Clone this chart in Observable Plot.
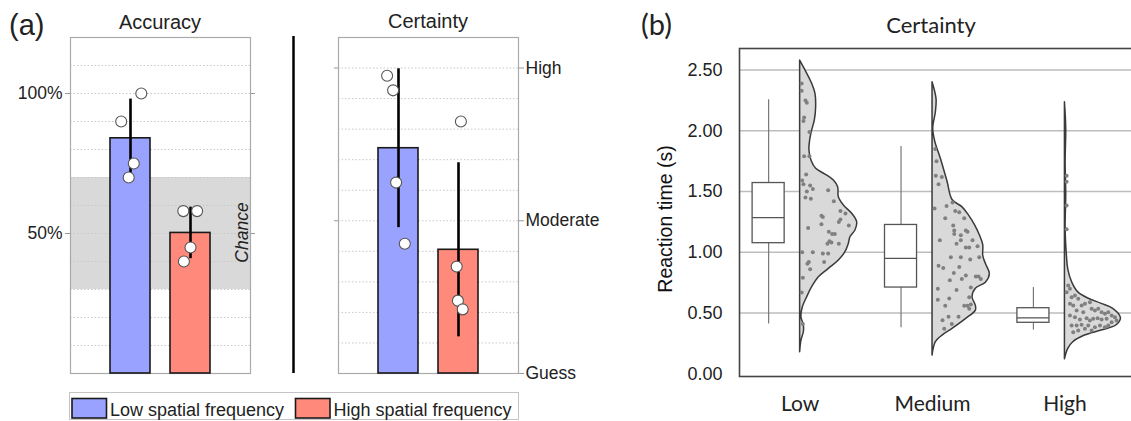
<!DOCTYPE html>
<html><head><meta charset="utf-8">
<script src="https://cdn.jsdelivr.net/npm/d3@7"></script>
<script src="https://cdn.jsdelivr.net/npm/@observablehq/plot@0.6"></script>
<style>
html,body{margin:0;padding:0;background:#fff;}
#chart{position:relative;width:1131px;height:421px;overflow:hidden;background:#fff;}
#chart svg{position:absolute;}
</style></head><body><div id="chart"></div>
<script>
// ---------- Panel (a) data ----------
const groups = ["Low spatial frequency", "High spatial frequency"];
const groupColors = ["#99a3ff", "#ff8a7c"];
const chanceRange = [0.3, 0.7];
const accuracyMean = [0.84, 0.502];
const accuracyErr = [0.14, 0.092];
const accuracyLow = [1.00, 0.90, 0.75, 0.70];
const accuracyLowJitter = [0.18, -0.155, 0.055, -0.03];
const accuracyHigh = [0.58, 0.58, 0.45, 0.40];
const accuracyHighJitter = [-0.12, 0.11, 0.0, -0.11];
const accuracyTicks = [0.5, 1.0];
const accuracyGrid = [0.1, 0.2, 0.3, 0.4, 0.5, 0.6, 0.7, 0.8, 0.9, 1.0, 1.1];

const certaintyLabels = ["Guess", "Moderate", "High"];
const certaintyLevels = [1, 2, 3];
const certaintyMean = [2.475, 1.81];
const certaintyErr = [0.52, 0.57];
const certaintyLow = [2.95, 2.854, 2.25, 1.85];
const certaintyLowJitter = [-0.19, -0.09, -0.04, 0.105];
const certaintyHigh = [2.65, 1.70, 1.477, 1.42];
const certaintyHighJitter = [0.04, -0.03, -0.01, 0.07];
const certaintyGrid = [1.2, 1.4, 1.6, 1.8, 2.0, 2.2, 2.4, 2.6, 2.8, 3.0];

// ---------- Panel (b) data ----------
const rtCategories = ["Low", "Medium", "High"];
const rtMin = [0.41, 0.38, 0.36];
const rtQ1 = [1.075, 0.71, 0.42];
const rtMedian = [1.285, 0.95, 0.46];
const rtQ3 = [1.57, 1.225, 0.54];
const rtMax = [2.255, 1.87, 0.71];
const rtTicks = [0, 0.5, 1.0, 1.5, 2.0, 2.5];

const lowViolinRT = [2.578, 2.387, 2.305, 2.194, 2.085, 2.002, 1.92, 1.838, 1.756, 1.687, 1.64, 1.591, 1.536, 1.453, 1.385, 1.317, 1.248, 1.179, 1.124, 1.07, 1.001, 0.933, 0.864, 0.795, 0.713, 0.63, 0.548, 0.466, 0.398, 0.342, 0.274, 0.178];
const lowViolinW = [0, 12, 15.3, 16, 14.7, 12, 10, 9.3, 11.3, 16, 25.3, 33.7, 38, 38.7, 43.7, 52, 57, 55.3, 50.3, 48.7, 45.3, 38.7, 28.7, 18.7, 12, 7, 2.7, 1.3, 3.7, 3.7, 1.3, 0];
const mediumViolinRT = [2.40, 2.26, 2.15, 2.02, 1.91, 1.77, 1.58, 1.43, 1.37, 1.30, 1.22, 1.14, 1.06, 0.97, 0.905, 0.82, 0.75, 0.70, 0.63, 0.56, 0.52, 0.45, 0.37, 0.315, 0.26, 0.15];
const mediumViolinW = [0, 4, 3.3, 0.7, 2.7, 8.3, 15, 20, 30, 36.7, 42.7, 47.3, 50.7, 50.7, 53.3, 57.3, 53.3, 43.3, 40, 43.3, 43.3, 33.3, 20, 10, 3.3, 0];
const highViolinRT = [2.235, 2.02, 1.74, 1.47, 1.19, 0.97, 0.86, 0.75, 0.67, 0.62, 0.576, 0.535, 0.458, 0.40, 0.356, 0.315, 0.26, 0.206, 0.12];
const highViolinW = [0, 1.3, 0.7, 1.3, 0.7, 2, 3.3, 7.3, 13.3, 23.3, 36.7, 48.3, 56, 51.7, 36.7, 20, 8.3, 3.3, 0];

const lowDotRT = [2.39, 2.33, 2.25, 2.23, 2.11, 2.08, 1.99, 1.79, 1.79, 1.64, 1.59, 1.56, 1.55, 1.52, 1.50, 1.51, 1.45, 1.44, 1.42, 1.34, 1.32, 1.30, 1.29, 1.27, 1.25, 1.22, 1.20, 1.23, 1.17, 1.15, 1.15, 1.09, 1.07, 1.08, 1.07, 1.00, 1.00, 0.99, 0.99, 0.92, 0.905, 0.92, 0.86, 0.79, 0.67, 0.41];
const lowDotW = [1.5, 1.5, 5.3, 6.7, 4, 3.3, 9.3, 4, 9.3, 6, 2, 3.3, 10, 12.7, 6.7, 28, 5.3, 10.7, 33.7, 40.3, 45.3, 21.3, 22.7, 40.3, 38.7, 48.7, 8, 21.3, 28.7, 32, 34.7, 29.3, 27.3, 31.3, 38.7, 2, 12.7, 22.7, 28, 8.7, 7.3, 24, 10, 2.7, 1.5, 2.7];
const mediumDotRT = [1.85, 1.75, 1.63, 1.62, 1.56, 1.36, 1.38, 1.41, 1.34, 1.33, 1.28, 1.28, 1.22, 1.18, 1.15, 1.18, 1.14, 1.17, 1.10, 1.10, 1.10, 1.07, 1.04, 1.04, 1.05, 0.96, 0.96, 0.94, 0.96, 0.89, 0.87, 0.88, 0.83, 0.81, 0.80, 0.80, 0.78, 0.77, 0.78, 0.71, 0.70, 0.69, 0.62, 0.63, 0.61, 0.56, 0.56, 0.56, 0.535, 0.57, 0.47, 0.47, 0.44, 0.41, 0.37];
const mediumDotW = [2.7, 4, 3.3, 9.3, 6, 2, 14, 20, 22.7, 26.7, 12.7, 31.7, 20.7, 21.7, 21.7, 33.3, 28.3, 35, 7.3, 28.3, 40, 24, 33.3, 36.7, 45, 18.3, 28.3, 37.7, 46.7, 6, 10.7, 26.7, 21.3, 33.3, 43.3, 46, 48.3, 17.3, 29.3, 38.3, 5.3, 24, 16.7, 36.7, 5.3, 12.7, 31.7, 35, 36.7, 38.3, 16, 26, 10, 19.3, 11.7];
const highDotRT = [1.63, 1.58, 1.385, 1.19, 0.727, 0.672, 0.70, 0.63, 0.645, 0.617, 0.576, 0.562, 0.562, 0.576, 0.589, 0.521, 0.507, 0.535, 0.521, 0.535, 0.507, 0.494, 0.507, 0.48, 0.466, 0.439, 0.48, 0.466, 0.447, 0.458, 0.439, 0.453, 0.458, 0.447, 0.453, 0.425, 0.398, 0.398, 0.403, 0.398, 0.384, 0.398, 0.384, 0.398, 0.356, 0.37, 0.342, 0.356];
const highDotW = [1.7, 1.7, 1.7, 1.7, 3.3, 1.7, 5, 6.7, 10, 13.3, 5, 8.3, 16.7, 20, 25, 11.7, 18.3, 26.7, 30, 33.3, 36.7, 40, 43.3, 46.7, 50, 51.7, 5, 10, 15, 21.7, 25, 28.3, 32.7, 36.7, 41.7, 46.7, 6.7, 11.7, 16.7, 23.3, 30, 35, 40, 43.3, 13.3, 20, 8.3, 26.7];

// ---------- helpers ----------
const chart = document.getElementById("chart");
function place(svg, left, top) {
  svg.style.left = left + "px";
  svg.style.top = top + "px";
  chart.appendChild(svg);
}
const arial = "'Liberation Sans', Arial, sans-serif";
const lato = "Lato, 'Open Sans', sans-serif";
const barHalf = 1 / 3;

function barPanel(means, errs, lowVals, lowJit, highVals, highJit, yDomain, grid, axisMarks, extraBack) {
  const bars = groups.map((g, i) => ({group: g, pos: i + 1, mean: means[i], err: errs[i], color: groupColors[i]}));
  const pts = [
    ...lowVals.map((v, i) => ({pos: 1, value: v, jitter: lowJit[i]})),
    ...highVals.map((v, i) => ({pos: 2, value: v, jitter: highJit[i]}))
  ];
  return {
    x: {domain: [0, 3], axis: null},
    y: {domain: yDomain, axis: null},
    color: {type: "identity"},
    marks: [
      ...extraBack,
      Plot.gridY(grid, {stroke: "#c8c8c8", strokeOpacity: 1, strokeDasharray: "1.5,2"}),
      Plot.frame({stroke: "#aaaaaa", strokeWidth: 1.2}),
      ...axisMarks,
      Plot.rect(bars, {x1: d => d.pos - barHalf, x2: d => d.pos + barHalf, y1: yDomain[0], y2: "mean", fill: "color", stroke: "#1a1a1a", strokeWidth: 1.6}),
      Plot.ruleX(bars, {x: "pos", y1: d => d.mean - d.err, y2: d => d.mean + d.err, stroke: "#000", strokeWidth: 2.6}),
      Plot.dot(pts, {x: d => d.pos + d.jitter, y: "value", r: 5.5, fill: "white", stroke: "#555", strokeWidth: 1.1})
    ]
  };
}

// ---------- Accuracy ----------
const accSpec = barPanel(accuracyMean, accuracyErr, accuracyLow, accuracyLowJitter, accuracyHigh, accuracyHighJitter,
  [0, 1.2], accuracyGrid,
  [
    Plot.axisY(accuracyTicks, {anchor: "left", tickFormat: d3.format(".0%"), tickSize: 5, tickPadding: 3, stroke: "#999", fill: "#222", label: null}),
    Plot.axisY(accuracyTicks, {anchor: "right", tickFormat: () => "", tickSize: 4, stroke: "#999", label: null})
  ],
  [Plot.rect([{low: chanceRange[0], high: chanceRange[1]}], {y1: "low", y2: "high", fill: "#d9d9d9"})]
);
const acc = Plot.plot({
  width: 260, height: 380, marginLeft: 70, marginRight: 10, marginTop: 37, marginBottom: 7,
  style: {fontFamily: arial, fontSize: "17.5px", color: "#222", background: "transparent", overflow: "visible"},
  ...accSpec
});
place(acc, 0, 0);

// ---------- Certainty ----------
const certSpec = barPanel(certaintyMean, certaintyErr, certaintyLow, certaintyLowJitter, certaintyHigh, certaintyHighJitter,
  [1, 3.2], certaintyGrid,
  [
    Plot.axisY(certaintyLevels, {anchor: "right", tickFormat: d => certaintyLabels[d - 1], tickSize: 5, tickPadding: 2, stroke: "#999", fill: "#222", label: null}),
    Plot.axisY(certaintyLevels.slice(1), {anchor: "left", tickFormat: () => "", tickSize: 4, stroke: "#999", label: null})
  ],
  []
);
const cert = Plot.plot({
  width: 340, height: 380, marginLeft: 58, marginRight: 102, marginTop: 37, marginBottom: 7,
  style: {fontFamily: arial, fontSize: "17.5px", color: "#222", background: "transparent", overflow: "visible"},
  ...certSpec
});
place(cert, 280, 0);

// ---------- Panel (b) ----------
const violinScale = 1 / 132.4;   // density width -> category units
const boxOffset = -0.238, boxHalf = 0.121;
const boxes = rtCategories.map((c, i) => ({cat: c, base: i + 1, min: rtMin[i], q1: rtQ1[i], med: rtMedian[i], q3: rtQ3[i], max: rtMax[i]}));
const violinSets = [[lowViolinRT, lowViolinW], [mediumViolinRT, mediumViolinW], [highViolinRT, highViolinW]];
const violinPts = violinSets.flatMap(([rt, w], i) => rt.map((v, j) => ({cat: rtCategories[i], base: i + 1, rt: v, w: w[j]})));
const dotSets = [[lowDotRT, lowDotW], [mediumDotRT, mediumDotW], [highDotRT, highDotW]];
const dotPts = dotSets.flatMap(([rt, w], i) => rt.map((v, j) => ({cat: rtCategories[i], base: i + 1, rt: v, w: w[j]})));

const rt = Plot.plot({
  width: 500, height: 421, marginLeft: 99, marginRight: 5, marginTop: 48, marginBottom: 45,
  style: {fontFamily: arial, fontSize: "18px", color: "#222", background: "transparent", overflow: "visible"},
  x: {domain: [0.542, 3.533], axis: null},
  y: {domain: [-0.022, 2.677], axis: null},
  marks: [
    Plot.gridY(rtTicks.slice(1), {stroke: "#bdbdbd", strokeOpacity: 1, strokeWidth: 1.6}),
    Plot.ruleX(boxes, {x: d => d.base + boxOffset, y1: "q3", y2: "max", stroke: "#777", strokeWidth: 1.2}),
    Plot.ruleX(boxes, {x: d => d.base + boxOffset, y1: "min", y2: "q1", stroke: "#777", strokeWidth: 1.2}),
    Plot.rect(boxes, {x1: d => d.base + boxOffset - boxHalf, x2: d => d.base + boxOffset + boxHalf, y1: "q1", y2: "q3", fill: "white", stroke: "#555", strokeWidth: 1.3}),
    Plot.ruleY(boxes, {y: "med", x1: d => d.base + boxOffset - boxHalf, x2: d => d.base + boxOffset + boxHalf, stroke: "#555", strokeWidth: 1.3}),
    Plot.areaX(violinPts, {y: "rt", x1: "base", x2: d => d.base + d.w * violinScale, z: "cat", fill: "#d9d9d9", stroke: "#3a3a3a", strokeWidth: 1.5, curve: "catmull-rom"}),
    Plot.dot(dotPts, {x: d => d.base + d.w * violinScale, y: "rt", r: 2, fill: "#808080", stroke: "none"}),
    Plot.frame({stroke: "#444", strokeWidth: 1.6}),
    Plot.axisY(rtTicks, {anchor: "left", tickFormat: d3.format(".2f"), tickSize: 0, tickPadding: 17, fontFamily: arial, fontSize: 18, label: null}),
    Plot.axisX([1, 2, 3], {anchor: "bottom", tickFormat: d => rtCategories[d - 1], tickSize: 0, tickPadding: 20, fontFamily: lato, fontSize: 21, label: null})
  ]
});
place(rt, 640, 0);

// ---------- Overlay: titles, divider, legend ----------
const ov = d3.select(chart).append("svg")
  .attr("width", 1131).attr("height", 421)
  .style("left", "0px").style("top", "0px").style("pointer-events", "none");

ov.append("line").attr("x1", 293.5).attr("x2", 293.5).attr("y1", 36).attr("y2", 373)
  .attr("stroke", "#000").attr("stroke-width", 2.5);

const T = (parent, x, y, s, opts) => {
  const t = parent.append("text").attr("x", x).attr("y", y).text(s)
    .attr("font-family", opts.font || arial).attr("font-size", opts.size).attr("fill", opts.fill || "#222")
    .attr("text-anchor", opts.anchor || "start");
  if (opts.italic) t.attr("font-style", "italic");
  if (opts.weight) t.attr("font-weight", opts.weight);
  if (opts.rotate) t.attr("transform", `rotate(-90,${x},${y})`);
  return t;
};
T(ov, 9, 35, "(a)", {size: 29});
T(ov, 160, 29, "Accuracy", {size: 20, anchor: "middle"});
T(ov, 428, 28, "Certainty", {size: 20, anchor: "middle"});
T(ov, 247.5, 232.5, "Chance", {size: 17.5, anchor: "middle", italic: true, rotate: true});
T(ov, 641, 35, "(b)", {size: 29, font: lato});
T(ov, 931, 33, "Certainty", {size: 22, anchor: "middle", font: lato});
T(ov, 672, 219, "Reaction time (s)", {size: 19.5, anchor: "middle", rotate: true, fill: "#111"});

// legend
const lg = ov.append("g");
lg.append("rect").attr("x", 69.5).attr("y", 392.5).attr("width", 449).attr("height", 27)
  .attr("fill", "white").attr("stroke", "#c4c4c4");
const legendX = [[72, 110], [295.5, 333.5]];
groups.forEach((g, i) => {
  lg.append("rect").attr("x", legendX[i][0]).attr("y", 398.5).attr("width", 34.5).attr("height", 19.5)
    .attr("fill", groupColors[i]).attr("stroke", "#1a1a1a").attr("stroke-width", 1.6);
  T(lg, legendX[i][1], 416, g, {size: 18});
});
</script></body></html>
